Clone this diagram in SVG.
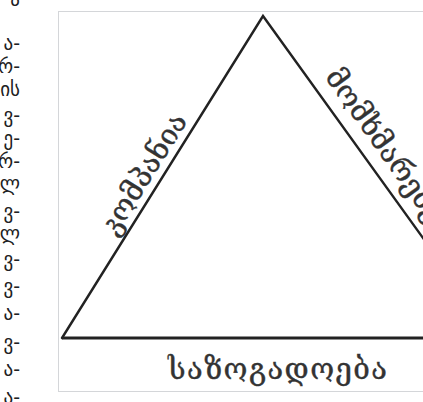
<svg xmlns="http://www.w3.org/2000/svg" width="423" height="402" viewBox="0 0 423 402">
<style>
.col{font-family:"DejaVu Sans","Noto Sans",sans-serif;font-size:19px;fill:#202122}
.lbl{font-family:"DejaVu Serif","DejaVu Sans",serif;font-size:29px;fill:#333;stroke:#333;stroke-width:0.4}
.edge{stroke:#222;stroke-width:2.4;fill:none;stroke-linecap:round}
</style>
<defs><clipPath id="vp"><rect x="0" y="0" width="423" height="402"/></clipPath></defs>
<rect width="423" height="402" fill="#fff"/>
<g id="column" class="col" text-anchor="end" clip-path="url(#vp)">
<text x="20" y="6">ა</text>
<text x="20" y="50">ა-</text>
<text x="20" y="73">რ-</text>
<text x="20" y="96">ის</text>
<text x="20" y="122">ვ-</text>
<text x="20" y="145">ე-</text>
<text x="20" y="168">რ-</text>
<text x="20" y="190">ლ</text>
<text x="20" y="218">ვ-</text>
<text x="20" y="240">ლ</text>
<text x="20" y="266">ვ-</text>
<text x="20" y="293">ვ-</text>
<text x="20" y="320">ა-</text>
<text x="20" y="349">ვ-</text>
<text x="20" y="376">ა-</text>
<text x="20" y="404">ა-</text>
</g>
<g clip-path="url(#vp)">
<rect id="frame" x="58.5" y="11.5" width="380" height="380" fill="#fff" stroke="#d4d6d9" stroke-width="1"/>
<g id="connectors">
<path class="edge" d="M62 338 L263 16 L495 338"/>
<line x1="62" y1="338" x2="430" y2="338" stroke="#222" stroke-width="3"/>
</g>
<g id="node-left"><text class="lbl" text-anchor="middle" transform="translate(152 179) rotate(-58)" textLength="137" lengthAdjust="spacing">კომპანია</text></g>
<g id="node-right"><text class="lbl" transform="translate(324 77) rotate(54.5)">მომხმარებელი</text></g>
<g id="node-bottom"><text class="lbl" x="277.5" y="379" text-anchor="middle" textLength="219" lengthAdjust="spacing">საზოგადოება</text></g>
</g>
</svg>
